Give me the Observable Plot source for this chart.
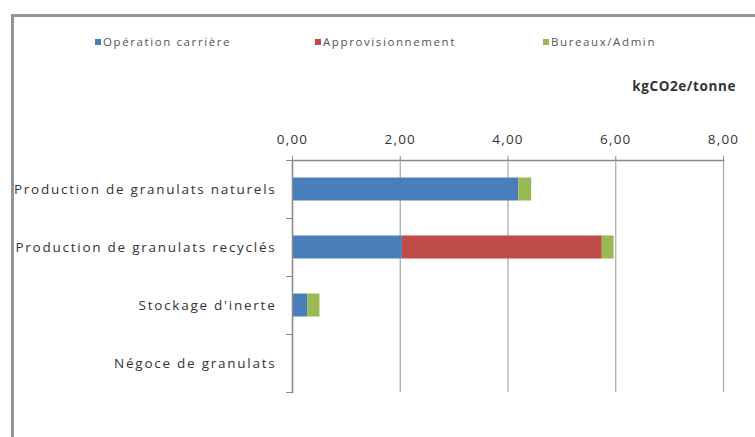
<!DOCTYPE html>
<html>
<head>
<meta charset="utf-8">
<script src="https://cdn.jsdelivr.net/npm/d3@7"></script>
<script src="https://cdn.jsdelivr.net/npm/@observablehq/plot@0.6"></script>
<style>
  html, body { margin: 0; padding: 0; background: #fff; }
  #wrap { position: relative; width: 755px; height: 437px; overflow: hidden; font-family: "Open Sans", sans-serif; }
  #frame { position: absolute; left: 11px; top: 14px; width: 800px; height: 500px; border-left: 3px solid #8e9698; border-top: 3px solid #8e9698; }
  .leg { position: absolute; top: 34px; font-size: 11.5px; letter-spacing: 1.6px; color: #555; white-space: nowrap; }
  .leg i { display: inline-block; width: 6px; height: 6px; margin-right: 2px; vertical-align: 1px; }
  #unit { position: absolute; top: 77px; right: 19px; font-size: 13.5px; font-weight: bold; letter-spacing: 0.6px; color: #333; }
  #chart { position: absolute; left: 0; top: 0; }
  g[aria-label="y-axis tick label"] text { letter-spacing: 1.75px; }
  g[aria-label="x-axis tick label"] text { letter-spacing: 1.2px; }
</style>
</head>
<body>
<div id="wrap">
  <div id="frame"></div>
  <div id="legend"></div>
  <div id="unit"></div>
  <div id="chart"></div>
</div>
<script>
const categories = ["Production de granulats naturels", "Production de granulats recyclés", "Stockage d'inerte", "Négoce de granulats"];
const seriesNames = ["Opération carrière", "Approvisionnement", "Bureaux/Admin"];
const operationCarriere = [4.20, 2.04, 0.28, 0];
const approvisionnement = [0, 3.71, 0, 0];
const bureauxAdmin = [0.24, 0.22, 0.23, 0];
const seriesColors = ["#4a7ebb", "#be4b48", "#98b954"];
const xTicks = [0, 2, 4, 6, 8];
const unitLabel = "kgCO2e/tonne";
const legendLeft = [95, 315, 543];

const seriesValues = [operationCarriere, approvisionnement, bureauxAdmin];
const data = [];
categories.forEach((c, i) => seriesNames.forEach((s, j) => data.push({category: c, series: s, value: seriesValues[j][i]})));

// legend & unit
const legend = document.getElementById("legend");
seriesNames.forEach((s, j) => {
  const d = document.createElement("div");
  d.className = "leg";
  d.style.left = legendLeft[j] + "px";
  d.innerHTML = `<i style="background:${seriesColors[j]}"></i>`;
  d.appendChild(document.createTextNode(s));
  legend.appendChild(d);
});
document.getElementById("unit").textContent = unitLabel;

const W = 755, H = 437, mt = 160, mb = 45, ml = 292, mr = 32;
const band = (H - mt - mb) / categories.length;
const fmt = d => d.toFixed(2).replace(".", ",");

const chart = Plot.plot({
  width: W, height: H,
  marginTop: mt, marginBottom: mb, marginLeft: ml, marginRight: mr,
  style: {fontFamily: "Open Sans, sans-serif", background: "transparent"},
  x: {domain: [0, 8], axis: null, label: null},
  y: {domain: categories, padding: 0, axis: null, label: null},
  color: {domain: seriesNames, range: seriesColors},
  marks: [
    Plot.gridX(xTicks, {stroke: "#a8a8a8", strokeOpacity: 1, strokeWidth: 1.2}),
    Plot.barX(data, Plot.stackX({x: "value", y: "category", fill: "series", order: seriesNames, insetTop: 17.5, insetBottom: 17.5})),
    Plot.frame({anchor: "top", stroke: "#8a8a8a", strokeWidth: 1.5}),
    Plot.frame({anchor: "left", stroke: "#8a8a8a", strokeWidth: 1.5}),
    Plot.axisX({anchor: "top", ticks: xTicks, tickFormat: fmt, tickSize: 5, tickPadding: 12, fontSize: 13.5, stroke: "#8a8a8a", color: "#333", label: null}),
    Plot.axisY({anchor: "left", tickSize: 0, tickPadding: 16, fontSize: 13.5, color: "#333", label: null}),
    Plot.ruleY(categories, {y: d => d, x1: 0, x2: 0, insetLeft: -6, dy: -band / 2, stroke: "#8a8a8a"}),
    Plot.ruleY(categories.slice(-1), {y: d => d, x1: 0, x2: 0, insetLeft: -6, dy: band / 2, stroke: "#8a8a8a"})
  ]
});
document.getElementById("chart").appendChild(chart);
</script>
</body>
</html>
